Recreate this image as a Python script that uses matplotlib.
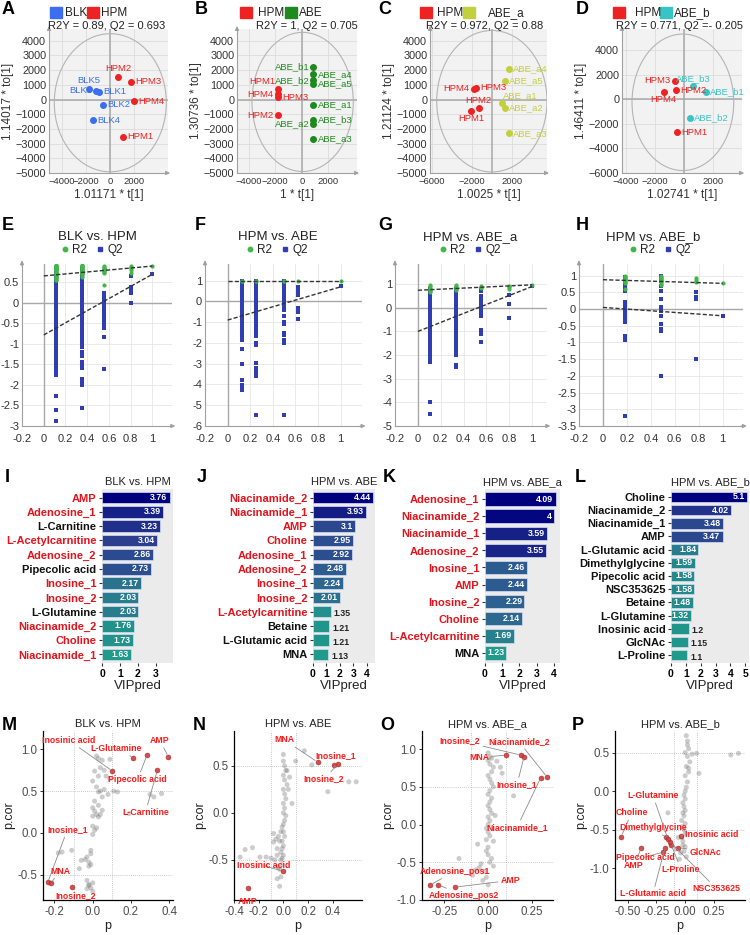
import numpy as np
import matplotlib
matplotlib.use("Agg")
import matplotlib.pyplot as plt
from matplotlib.patches import Ellipse, Rectangle
from matplotlib.lines import Line2D
from matplotlib.colors import LinearSegmentedColormap, Normalize

plt.rcParams['font.family'] = ['Liberation Sans', 'DejaVu Sans']

W, H = 750, 935
fig = plt.figure(figsize=(7.5, 9.35), dpi=100)


def box(l, t, r, b):
    return fig.add_axes([l / W, 1 - b / H, (r - l) / W, (b - t) / H])


def ftext(x, y, s, **kw):
    fig.text(x / W, 1 - y / H, s, **kw)


# ---------------- A-D : OPLS-DA score plots ----------------
a_names = ["BLK5", "BLK3", "BLK1", "BLK2", "BLK4", "HPM2", "HPM3", "HPM4", "HPM1"]
a_t = [-1780, -1150, -960, -630, -1420, 680, 1700, 1970, 1040]
a_to = [750, 610, 520, -340, -1410, 1545, 1200, -100, -2520]
a_grp = [0, 0, 0, 0, 0, 1, 1, 1, 1]
a_side = ["top", "left", "right", "right", "right", "top", "right", "right", "right"]

b_names = ["HPM1", "HPM4", "HPM3", "HPM2", "ABE_b1", "ABE_a4", "ABE_b2", "ABE_a5",
           "ABE_a1", "ABE_b3", "ABE_a2", "ABE_a3"]
b_t = [-1800, -1800, -1800, -1800, 875, 875, 875, 875, 875, 875, 875, 875]
b_to = [750, 350, 150, -1070, 2240, 1710, 1300, 1070, -370, -1370, -1670, -2670]
b_grp = [0, 0, 0, 0, 1, 1, 1, 1, 1, 1, 1, 1]
b_side = ["topleft", "left", "right", "left", "left", "right", "left", "right",
          "right", "right", "left", "right"]

c_names = ["HPM4", "HPM3", "HPM2", "HPM1", "ABE_a4", "ABE_a5", "ABE_a1", "ABE_a2", "ABE_a3"]
c_t = [-1830, -1600, -1300, -2070, 1730, 1330, 1000, 1330, 1670]
c_to = [750, 800, -610, -750, 2090, 1250, -230, -570, -2300]
c_grp = [0, 0, 0, 0, 1, 1, 1, 1, 1]
c_side = ["left", "right", "top", "bottom", "right", "right", "topright", "right", "right"]

d_names = ["HPM3", "HPM4", "HPM2", "HPM1", "ABE_b3", "ABE_b1", "ABE_b2"]
d_t = [-620, -1380, -510, -460, 640, 1560, 440]
d_to = [1500, 630, 740, -2670, 1060, 630, -1500]
d_grp = [0, 0, 0, 0, 1, 1, 1]
d_side = ["left", "bottom", "right", "right", "top", "right", "right"]

score_stats = ["R2Y = 0.89, Q2 = 0.693", "R2Y = 1, Q2 = 0.705",
               "R2Y = 0.972, Q2 = 0.88", "R2Y = 0.771, Q2 =- 0.205"]
score_xlab = ["1.01171 * t[1]", "1 * t[1]", "1.0025 * t[1]", "1.02741 * t[1]"]
score_ylab = ["1.14017 * to[1]", "1.30736 * to[1]", "1.21124 * to[1]", "1.46411 * to[1]"]
score_groups = [["BLK", "HPM"], ["HPM", "ABE"], ["HPM", "ABE_a"], ["HPM", "ABE_b"]]

RED = "#ee2222"
score_cols = [["#3b6ef0", RED], [RED, "#1e8a1e"], [RED, "#c3cf3c"], [RED, "#38c4c4"]]

offs = {"right": ((3, 0), "left", "center"), "left": ((-3, 0), "right", "center"),
        "top": ((0, 2.5), "center", "bottom"), "bottom": ((0, -2.5), "center", "top"),
        "topright": ((1, 2), "left", "bottom"), "topleft": ((-2, 1.5), "right", "bottom")}


def arrows(ax, col):
    ax.annotate("", xy=(1.04, 0), xytext=(0.97, 0), xycoords="axes fraction",
                arrowprops=dict(arrowstyle="-|>", color=col, lw=0.7, mutation_scale=6),
                annotation_clip=False)
    ax.annotate("", xy=(0, 1.04), xytext=(0, 0.97), xycoords="axes fraction",
                arrowprops=dict(arrowstyle="-|>", color=col, lw=0.7, mutation_scale=6),
                annotation_clip=False)


def score(pos, names, t, to, grp, side, cols, xlim, ylim, xt, yt, ell, i):
    ax = box(*pos)
    ax.set_facecolor("#f2f2f2")
    ax.set_xlim(xlim)
    ax.set_ylim(ylim)
    ax.set_xticks(xt)
    ax.set_yticks(yt)
    ax.grid(True, color="#dcdcdc", lw=0.6)
    ax.set_axisbelow(True)
    ax.axhline(0, color="#a8a8a8", lw=1.1, zorder=1)
    ax.axvline(0, color="#a8a8a8", lw=1.1, zorder=1)
    ax.add_patch(Ellipse(ell[:2], ell[2], ell[3], fill=False, ec="#b4b4b4", lw=0.8, zorder=2))
    for n, x, y, g, s in zip(names, t, to, grp, side):
        ax.plot(x, y, "o", color=cols[g], ms=4, zorder=3)
        o, ha, va = offs[s]
        ax.annotate(n, (x, y), xytext=o, textcoords="offset points", ha=ha, va=va,
                    fontsize=6.8, color=cols[g], zorder=4)
    for sp in ("top", "right"):
        ax.spines[sp].set_visible(False)
    for sp in ("left", "bottom"):
        ax.spines[sp].set_color("#a0a0a0")
    arrows(ax, "#a0a0a0")
    ax.tick_params(labelsize=7.8, length=0, pad=2, labelcolor="#333333")
    ax.tick_params(axis="x", labelsize=6.8, pad=3)
    ax.set_xlabel(score_xlab[i], fontsize=8.5, color="#333333", labelpad=2)
    ax.set_ylabel(score_ylab[i], fontsize=8.5, color="#333333", labelpad=1)
    return ax


ax = score((49, 29, 168, 173), a_names, a_t, a_to, a_grp, a_side, score_cols[0],
           (-5100, 4800), (-5000, 4800), [-4000, -2000, 0, 2000],
           list(range(-5000, 4001, 1000)), (0, -220, 9320, 9400), 0)
ax = score((237, 29, 357, 173), b_names, b_t, b_to, b_grp, b_side, score_cols[1],
           (-4875, 4150), (-5000, 4800), [-4000, -2000, 0, 2000],
           list(range(-5000, 4001, 1000)), (60, -165, 7620, 9470), 1)
ax = score((430, 29, 547, 173), c_names, c_t, c_to, c_grp, c_side, score_cols[2],
           (-6170, 5500), (-5000, 4800), [-6000, -2000, 2000],
           list(range(-5000, 4001, 1000)), (0, -115, 11000, 9630), 2)
ax = score((622, 29, 742, 173), d_names, d_t, d_to, d_grp, d_side, score_cols[3],
           (-4250, 4020), (-6000, 5720), [-4000, -2000, 0, 2000],
           list(range(-6000, 4001, 2000)), (-55, -245, 7010, 11110), 3)

# legends / stats / letters for row 1
leg_pos = [(50, 87, 65, 101), (240, 285, 258, 299), (420, 463, 437, 488), (613, 660, 635, 674)]
stat_x = [107, 307, 485, 680]
for i, (s1, s2, t1, t2) in enumerate(leg_pos):
    for sx, tx, c, g in ((s1, t1, score_cols[i][0], score_groups[i][0]),
                         (s2, t2, score_cols[i][1], score_groups[i][1])):
        fig.patches.append(Rectangle((sx / W, 1 - 18 / H), 12 / W, 11 / H,
                                     transform=fig.transFigure, color=c))
        ftext(tx, 13, g, fontsize=8.5, va="center", color="#222222")
    ftext(stat_x[i], 26, score_stats[i], fontsize=8, ha="center", va="center", color="#222222")
for s, x in zip("ABCD", [2, 195, 378, 576]):
    ftext(x, 9, s, fontsize=13, fontweight="bold", va="center")

# ---------------- E-H : permutation tests ----------------
e_cols = [0.11, 0.35, 0.55, 0.8, 1.0]
e_r2 = [[0.92, 0.91, 0.9, 0.89, 0.88, 0.87, 0.86, 0.85, 0.84, 0.83, 0.82, 0.8, 0.78, 0.76,
         0.74, 0.72, 0.7, 0.68, 0.66, 0.64, 0.62, 0.6, 0.57, 0.55],
        [0.92, 0.91, 0.9, 0.89, 0.88, 0.86, 0.84, 0.82, 0.8, 0.78, 0.76, 0.74, 0.72, 0.7,
         0.67, 0.64],
        [0.9, 0.88, 0.86, 0.84, 0.82, 0.8, 0.78, 0.75, 0.72, 0.45],
        [0.9, 0.88, 0.85, 0.8, 0.72],
        [0.9]]
e_q2 = [[0.82, 0.76, 0.7, 0.62, 0.55, 0.48, 0.4, 0.32, 0.25, 0.18, 0.1, 0.02, -0.05, -0.12,
         -0.2, -0.28, -0.35, -0.42, -0.5, -0.57, -0.64, -0.72, -0.8, -0.88, -0.95, -1.02,
         -1.1, -1.18, -1.25, -1.32, -1.4, -1.48, -1.55, -1.62, -1.7, -1.76, -2.27, -2.6, -2.87],
        [0.85, 0.78, 0.7, 0.62, 0.55, 0.48, 0.4, 0.32, 0.25, 0.18, 0.1, 0.02, -0.05, -0.12,
         -0.2, -0.28, -0.35, -0.42, -0.5, -0.58, -0.65, -0.72, -0.8, -0.9, -1.0, -1.08, -1.2,
         -1.3, -1.45, -1.52, -1.58, -1.85, -1.92, -2.0, -2.55],
        [0.25, 0.18, 0.1, 0.02, -0.05, -0.12, -0.2, -0.3, -0.38, -0.45, -0.52, -0.6, -0.82, -1.6],
        [0.65, 0.4, 0.3, 0.25, 0.0],
        [0.7]]
e_lines = [(0.66, 0.9), (-0.78, 0.7)]

f_cols = [0.124, 0.25, 0.5, 0.625, 1.0]
f_r2 = [[1.0, 0.99], [1.0, 0.99], [1.0, 0.99], [1.0], [1.0]]
f_q2 = [[1.0, 0.9, 0.8, 0.7, 0.6, 0.5, 0.4, 0.3, 0.2, 0.1, 0.0, -0.1, -0.2, -0.3, -0.4, -0.5,
         -0.6, -0.7, -0.8, -0.9, -1.0, -1.1, -1.2, -1.3, -1.4, -1.5, -1.6, -1.7, -1.85, -2.3,
         -3.0, -3.8, -4.05, -4.15, -4.25],
        [1.0, 0.9, 0.8, 0.7, 0.6, 0.5, 0.4, 0.3, 0.2, 0.1, 0.0, -0.1, -0.2, -0.3, -0.4, -0.5,
         -0.6, -0.7, -0.8, -0.9, -1.0, -1.1, -1.2, -1.3, -1.4, -1.5, -1.65, -2.0, -2.1, -2.95,
         -3.2, -3.35, -3.45, -3.6, -5.45],
        [1.0, 0.9, 0.8, 0.7, 0.6, 0.5, 0.4, 0.3, 0.2, 0.1, 0.0, -0.1, -0.2, -0.4, -0.7, -1.0,
         -1.1, -1.5, -1.6, -1.85, -1.95, -2.0, -5.45],
        [0.7, 0.55, 0.4, 0.3, -0.3, -0.4, -0.5, -0.85],
        [0.72]]
f_lines = [(1.0, 1.0), (-0.9, 0.7)]

g_cols = [0.103, 0.338, 0.553, 0.794, 1.0]
g_r2 = [[0.95, 0.9, 0.85, 0.8, 0.75, 0.7, 0.65], [0.95, 0.9, 0.85, 0.8, 0.75],
        [0.93, 0.88, 0.82], [0.93, 0.88, 0.8], [0.97]]
g_q2 = [[0.8, 0.7, 0.6, 0.5, 0.4, 0.3, 0.2, 0.1, 0.0, -0.1, -0.2, -0.3, -0.4, -0.5, -0.6,
         -0.7, -0.8, -0.9, -1.0, -1.1, -1.2, -1.3, -1.4, -1.5, -1.6, -1.7, -1.8, -1.9, -2.0,
         -2.1, -2.2, -2.3, -4.0, -4.5],
        [0.8, 0.7, 0.6, 0.5, 0.4, 0.3, 0.2, 0.1, 0.0, -0.1, -0.2, -0.3, -0.4, -0.5, -0.6,
         -0.7, -0.8, -0.9, -1.0, -1.1, -1.2, -1.3, -1.4, -1.5, -1.6, -1.7, -1.8, -1.9, -2.0,
         -2.4, -2.5],
        [0.8, 0.75, 0.7, 0.5, 0.4, 0.3, 0.2, 0.1, 0.0, -0.1, -0.2, -0.35, -0.95, -1.1, -1.45],
        [0.55, 0.15, -0.45],
        [0.9]]
g_lines = [(0.74, 0.97), (-1.0, 0.9)]

h_cols = [0.185, 0.483, 0.779, 1.0]
h_r2 = [[0.98, 0.95, 0.92, 0.9, 0.87, 0.84, 0.8, 0.77, 0.6],
        [1.0, 0.97, 0.94, 0.9, 0.87, 0.83, 0.8, 0.76, 0.72],
        [0.92, 0.88, 0.82], [0.77]]
h_q2 = [[0.95, 0.85, 0.75, 0.65, 0.55, 0.2, 0.15, 0.05, -0.02, -0.1, -0.15, -0.2, -0.25,
         -0.3, -0.35, -0.4, -0.82, -0.87, -0.92, -3.2],
        [0.98, 0.9, 0.85, 0.7, 0.55, 0.3, 0.05, -0.05, -0.2, -0.45, -0.6, -0.65, -2.0],
        [0.5, 0.35, 0.3, -1.5],
        [-0.2]]
h_lines = [(0.88, 0.77), (0.05, -0.2)]

perm_titles = ["BLK vs. HPM", "HPM vs. ABE", "HPM vs. ABE_a", "HPM vs. ABE_b"]
GREEN, BLUE = "#43b649", "#2f3fb3"


def perm(pos, cols, r2, q2, lines, xmax, ylim, yt, ytl):
    ax = box(*pos)
    ax.set_xlim(-0.2, xmax)
    ax.set_ylim(ylim)
    ax.set_xticks([-0.2, 0, 0.2, 0.4, 0.6, 0.8, 1])
    ax.set_xticklabels(["-0.2", "0", "0.2", "0.4", "0.6", "0.8", "1"])
    ax.set_yticks(yt)
    ax.set_yticklabels(ytl)
    ax.grid(True, color="#e6e6e6", lw=0.6)
    ax.set_axisbelow(True)
    ax.axhline(0, color="#a8a8a8", lw=1.0, zorder=1)
    ax.axvline(0, color="#a8a8a8", lw=1.0, zorder=1)
    for c, vals in zip(cols, q2):
        ax.plot([c] * len(vals), vals, "s", color=BLUE, ms=2.6, mew=0, zorder=3)
    for c, vals in zip(cols, r2):
        ax.plot([c] * len(vals), vals, "o", color=GREEN, ms=3, mew=0, zorder=4)
    for y0, y1 in lines:
        ax.plot([0, 1], [y0, y1], color="#333333", lw=1.0, ls=(0, (3, 1.5)), zorder=5)
    for sp in ("top", "right"):
        ax.spines[sp].set_visible(False)
    for sp in ("left", "bottom"):
        ax.spines[sp].set_color("#a0a0a0")
    arrows(ax, "#a0a0a0")
    ax.tick_params(labelsize=8, length=0, pad=2, labelcolor="#333333")
    ax.tick_params(axis="x", pad=6)
    return ax


perm((22, 264, 172, 426), e_cols, e_r2, e_q2, e_lines, 1.18, (-3, 0.95),
     [0.5, 0, -0.5, -1, -1.5, -2, -2.5, -3], ["0.5", "0", "-0.5", "-1", "-1.5", "-2", "-2.5", "-3"])
perm((205, 264, 362, 426), f_cols, f_r2, f_q2, f_lines, 1.19, (-6, 1.8),
     [1, 0, -1, -2, -3, -4, -5, -6], ["1", "0", "-1", "-2", "-3", "-4", "-5", "-6"])
perm((395, 264, 547, 426), g_cols, g_r2, g_q2, g_lines, 1.13, (-5, 1.85),
     [1, 0, -1, -2, -3, -4, -5], ["1", "0", "-1", "-2", "-3", "-4", "-5"])
perm((579, 264, 743, 426), h_cols, h_r2, h_q2, h_lines, 1.17, (-3.5, 1.35),
     [1, 0.5, 0, -0.5, -1, -1.5, -2, -2.5, -3, -3.5],
     ["1", "0.5", "0", "-0.5", "-1", "-1.5", "-2", "-2.5", "-3", "-3.5"])

perm_cx = [(97, 92), (278, 277), (470, 470), (653, 660)]
perm_handles = [Line2D([], [], marker="o", ls="", color=GREEN, ms=3.2, label="R2"),
                Line2D([], [], marker="s", ls="", color=BLUE, ms=3, label="Q2")]
for (tx, lx), t in zip(perm_cx, perm_titles):
    ftext(tx, 237, t, fontsize=9.5, ha="center", va="center", color="#222222")
    fig.legend(handles=perm_handles, loc="center", bbox_to_anchor=(lx / W, 1 - 250 / H),
               ncol=2, frameon=False, fontsize=8.5, handlelength=0.6, handletextpad=0.3,
               columnspacing=0.8, borderpad=0, labelcolor="#222222")
for s, x in zip("EFGH", [2, 195, 378, 576]):
    ftext(x, 226, s, fontsize=13, fontweight="bold", va="center")

# ---------------- I-L : VIP bar charts ----------------
i_names = ["AMP", "Adenosine_1", "L-Carnitine", "L-Acetylcarnitine", "Adenosine_2",
           "Pipecolic acid", "Inosine_1", "Inosine_2", "L-Glutamine", "Niacinamide_2",
           "Choline", "Niacinamide_1"]
i_vip = [3.76, 3.39, 3.23, 3.04, 2.86, 2.73, 2.17, 2.03, 2.03, 1.76, 1.73, 1.63]
i_red = [1, 1, 0, 1, 1, 0, 1, 1, 0, 1, 1, 1]

j_names = ["Niacinamide_2", "Niacinamide_1", "AMP", "Choline", "Adenosine_1", "Adenosine_2",
           "Inosine_1", "Inosine_2", "L-Acetylcarnitine", "Betaine", "L-Glutamic acid", "MNA"]
j_vip = [4.44, 3.93, 3.1, 2.95, 2.92, 2.48, 2.24, 2.01, 1.35, 1.21, 1.21, 1.13]
j_red = [1, 1, 1, 1, 1, 1, 1, 1, 1, 0, 0, 0]

k_names = ["Adenosine_1", "Niacinamide_2", "Niacinamide_1", "Adenosine_2", "Inosine_1",
           "AMP", "Inosine_2", "Choline", "L-Acetylcarnitine", "MNA"]
k_vip = [4.09, 4, 3.59, 3.55, 2.46, 2.44, 2.29, 2.14, 1.69, 1.23]
k_red = [1, 1, 1, 1, 1, 1, 1, 1, 1, 0]

l_names = ["Choline", "Niacinamide_2", "Niacinamide_1", "AMP", "L-Glutamic acid",
           "Dimethylglycine", "Pipecolic acid", "NSC353625", "Betaine", "L-Glutamine",
           "Inosinic acid", "GlcNAc", "L-Proline"]
l_vip = [5.1, 4.02, 3.48, 3.47, 1.84, 1.59, 1.58, 1.58, 1.48, 1.32, 1.2, 1.15, 1.1]
l_red = [0] * 13

vip_cmap = LinearSegmentedColormap.from_list("vip", ["#1f9a8b", "#2d6690", "#2b3f8e", "#00007f"])


def vip(pos, names, vals, red, xmax, xt, title):
    ax = box(*pos)
    n = len(vals)
    y = np.arange(n)
    norm = Normalize(min(vals), max(vals))
    ax.barh(y, vals, height=0.8, color=vip_cmap(norm(np.array(vals))), ec="#d8def2", lw=0.5)
    ax.set_ylim(n - 0.4, -0.6)
    ax.set_xlim(0, xmax)
    ax.set_facecolor("#ebebeb")
    wpx = pos[2] - pos[0]
    for yi, v in zip(y, vals):
        if v / xmax * wpx >= 19:
            ax.annotate(f"{v:g}", (v, yi), xytext=(-1.5, 0), textcoords="offset points",
                        ha="right", va="center", fontsize=6.3, color="white", fontweight="bold")
        else:
            ax.annotate(f"{v:g}", (v, yi), xytext=(2, -1.5), textcoords="offset points",
                        ha="left", va="center", fontsize=6.3, color="#222222", fontweight="bold")
    ax.set_yticks(y)
    ax.set_yticklabels(names, fontsize=8, fontweight="bold")
    for lb, r in zip(ax.get_yticklabels(), red):
        lb.set_color("#e3141c" if r else "#111111")
    ax.set_xticks(xt)
    ax.set_xticklabels([str(v) for v in xt], fontsize=7.5, fontweight="bold")
    ax.tick_params(length=2.5, width=0.8, color="#333333", pad=1.5)
    for sp in ax.spines.values():
        sp.set_visible(False)
    ax.set_xlabel("VIPpred", fontsize=9.5, labelpad=1, color="#222222")
    ax.set_title(title, fontsize=8, pad=3, color="#222222")
    return ax


vip((102, 489, 173, 663), i_names, i_vip, i_red, 3.95, [0, 1, 2, 3], "BLK vs. HPM")
vip((313, 489, 375, 663), j_names, j_vip, j_red, 4.6, [0, 1, 2, 3, 4], "HPM vs. ABE")
vip((485, 489, 560, 663), k_names, k_vip, k_red, 4.35, [0, 1, 2, 3, 4], "HPM vs. ABE_a")
vip((671, 489, 749, 663), l_names, l_vip, l_red, 5.25, [0, 1, 2, 3, 4, 5], "HPM vs. ABE_b")
for s, x in zip("IJKL", [5, 197, 383, 575]):
    ftext(x, 478, s, fontsize=13, fontweight="bold", va="center")

# ---------------- M-P : S-plots ----------------
m_gp = [0.02, 0.03, 0.05, 0.09, 0.04, 0.06, 0.01, 0.03, 0.07, 0.09, 0.0, 0.02, 0.04, 0.03,
        0.06, 0.08, 0.11, 0.13, 0.05, 0.01, 0.03, 0.0, 0.01, 0.02, 0.0, 0.04, 0.03, 0.05,
        0.19, 0.30, 0.32, 0.36, 0.0, 0.02, 0.0, 0.01, -0.18, -0.16, -0.11, -0.01, -0.01,
        -0.03, -0.04, -0.02, -0.01, -0.02, -0.06, -0.07, -0.03, -0.02, 0.0, -0.01, -0.03, 0.0,
        -0.02]
m_gc = [0.92, 0.89, 0.87, 0.88, 0.78, 0.75, 0.74, 0.68, 0.68, 0.65, 0.62, 0.55, 0.5, 0.49,
        0.52, 0.46, 0.5, 0.49, 0.43, 0.38, 0.33, 0.30, 0.26, 0.22, 0.20, 0.22, 0.19, 0.27,
        0.23, 0.46, 0.43, 0.47, 0.08, 0.06, -0.02, 0.03, -0.24, -0.23, -0.21, -0.21, -0.25,
        -0.29, -0.32, -0.35, -0.38, -0.40, -0.33, -0.43, -0.57, -0.62, -0.60, -0.66, -0.67,
        -0.70, -0.63]
m_names = ["AMP", "L-Glutamine", "Pipecolic acid", "Inosinic acid", "L-Carnitine",
           "Inosine_1", "Inosine_2", "MNA"]
m_rp = [0.396, 0.213, 0.284, 0.103, 0.338, -0.235, -0.110, -0.219]
m_rc = [0.91, 0.90, 0.93, 0.74, 0.75, -0.595, -0.647, -0.60]
m_lp = [0.352, 0.124, 0.235, -0.124, 0.276, -0.133, -0.089, -0.169]
m_lc = [1.107, 1.01, 0.643, 1.107, 0.246, 0.036, -0.746, -0.46]

n_gp = [0.0, 0.01, 0.02, 0.0, 0.01, 0.03, 0.0, 0.01, 0.02, 0.0, 0.01, 0.0, 0.02, 0.01,
        0.0, -0.01, 0.0, 0.01, -0.01, 0.0, -0.01, -0.02, 0.0, -0.01, -0.02, -0.03, -0.01,
        -0.02, -0.04, -0.05, -0.03, -0.06, -0.08, -0.1, -0.05, -0.04, -0.07, -0.02, 0.05,
        0.07, 0.04, 0.1, 0.17, 0.23, 0.36, 0.53, 0.59, -0.35, -0.31, -0.25, -0.19, -0.14,
        -0.08, -0.03, -0.05, 0.0, 0.03]
n_gc = [0.55, 0.5, 0.45, 0.4, 0.35, 0.3, 0.25, 0.2, 0.15, 0.1, 0.05, 0.0, -0.03, -0.08,
        -0.12, -0.15, -0.2, -0.25, -0.3, -0.35, -0.38, -0.42, -0.45, -0.48, -0.5, -0.3,
        -0.55, -0.2, -0.25, -0.45, -0.6, -0.28, -0.22, -0.48, -0.38, -0.58, -0.5, -0.68,
        0.38, 0.1, 0.25, 0.55, 0.66, 0.51, 0.225, 0.33, 0.33, -0.47, -0.39, -0.37, -0.47,
        -0.47, -0.31, -0.78, -0.7, 0.62, 0.45]
n_names = ["MNA", "Inosine_1", "Inosine_2", "Inosinic acid", "AMP"]
n_rp = [0.277, 0.41, 0.443, -0.005, -0.287]
n_rc = [0.54, 0.51, 0.52, -0.62, -0.80]
n_lp = [0.008, 0.424, 0.33, -0.16, -0.287]
n_lc = [0.775, 0.606, 0.36, -0.56, -0.94]

o_gp = [0.0, 0.01, 0.02, 0.0, 0.01, 0.03, 0.02, 0.0, 0.01, 0.02, 0.03, 0.01, 0.0, 0.02,
        0.01, 0.0, 0.01, 0.02, 0.0, 0.01, 0.0, -0.01, 0.0, 0.01, -0.01, 0.0, -0.01, 0.0,
        0.02, 0.01, 0.03, 0.07, 0.05, 0.145, -0.06, -0.166, -0.05, -0.03, -0.088, -0.02,
        -0.01, 0.0, -0.04, -0.07, 0.04, 0.08, 0.03]
o_gc = [0.95, 0.9, 0.88, 0.85, 0.8, 0.76, 0.7, 0.65, 0.6, 0.55, 0.5, 0.45, 0.4, 0.35, 0.3,
        0.25, 0.2, 0.15, 0.1, 0.05, 0.0, -0.05, -0.1, -0.15, -0.2, -0.3, -0.35, -0.4, -0.45,
        -0.5, -0.55, 0.76, 0.84, 0.38, -0.26, -0.45, -0.57, -0.74, -0.67, -0.62, -0.7,
        -0.8, -0.52, -0.6, 0.12, 0.68, -0.22]
o_names = ["MNA", "Inosine_2", "Inosine_1", "Niacinamide_1", "Niacinamide_2",
           "Adenosine_pos1", "Adenosine_pos2", "AMP"]
o_rp = [0.104, 0.188, 0.205, 0.30, 0.336, -0.33, -0.284, -0.19]
o_rc = [0.92, 0.92, 0.90, 0.62, 0.63, -0.80, -0.80, -0.83]
o_lp = [-0.05, -0.16, 0.165, 0.165, 0.175, -0.19, -0.135, 0.127]
o_lc = [0.89, 1.11, 0.53, -0.035, 1.10, -0.62, -0.94, -0.74]

p_gp = [0.01, 0.02, 0.03, 0.0, 0.02, 0.04, 0.01, 0.03, 0.0, 0.02, 0.01, 0.0, -0.01,
        0.0, -0.02, -0.01, 0.0, -0.02, -0.01, -0.03, 0.0, -0.02, -0.01, 0.0, -0.03, -0.02,
        0.0, -0.01, 0.02, 0.06, 0.1, 0.12, 0.397, 0.463, -0.15, -0.06, -0.08, -0.04, -0.05,
        0.01, -0.02, 0.03]
p_gc = [0.72, 0.65, 0.55, 0.5, 0.45, 0.38, 0.32, 0.25, 0.2, 0.12, 0.05, 0.0, -0.05, -0.1,
        -0.15, -0.2, -0.25, -0.28, -0.32, -0.38, -0.42, -0.46, -0.5, -0.55, -0.6, -0.65,
        -0.72, -0.78, 0.6, 0.48, 0.49, 0.23, 0.47, 0.49, -0.28, -0.6, -0.75, -0.8, -0.88,
        -0.85, -0.7, 0.3]
p_names = ["Choline", "AMP", "Dimethylglycine", "L-Glutamine", "Pipecolic acid",
           "L-Glutamic acid", "L-Proline", "NSC353625", "GlcNAc", "Inosinic acid"]
p_rp = [-0.557, -0.38, -0.166, -0.15, -0.19, -0.175, -0.12, -0.13, -0.06, -0.04]
p_rc = [-0.59, -0.73, -0.60, -0.62, -0.79, -0.73, -0.70, -0.66, -0.73, -0.58]
p_lp = [-0.466, -0.446, -0.28, -0.28, -0.35, -0.28, -0.037, 0.274, 0.177, 0.234]
p_lc = [-0.28, -0.965, -0.47, -0.058, -0.854, -1.33, -1.01, -1.265, -0.79, -0.558]

s_titles = ["BLK vs. HPM", "HPM vs. ABE", "HPM vs. ABE_a", "HPM vs. ABE_b"]


def splot(pos, gp, gc, rp, rc, names, lp, lc, xlim, ylim, xt, xtl, yt, ytl, title):
    ax = box(*pos)
    ax.set_xlim(xlim)
    ax.set_ylim(ylim)
    for v in (-0.1, 0.1):
        ax.axvline(v, color="#b8b8b8", lw=0.6, ls=(0, (1, 1.5)), zorder=0)
    for v in (-0.5, 0.5):
        ax.axhline(v, color="#b8b8b8", lw=0.6, ls=(0, (1, 1.5)), zorder=0)
    ax.scatter(gp, gc, s=13, color="#6e6e6e", alpha=0.35, edgecolors="none", zorder=2)
    ax.scatter(rp, rc, s=13, color="#d23a3a", alpha=0.9, edgecolors="#8a2020",
               linewidths=0.3, zorder=3)
    for n, x, y, tx, ty in zip(names, rp, rc, lp, lc):
        a = ax.transData.transform((x, y))
        b = ax.transData.transform((tx, ty))
        far = np.hypot(*(a - b)) > 14
        ax.annotate(n, (x, y), xytext=(tx, ty), textcoords="data", ha="center", va="center",
                    fontsize=6.3, color="#ff1a1a", fontweight="bold", zorder=4,
                    arrowprops=dict(arrowstyle="-", color="#8c8c8c", lw=0.6,
                                    shrinkA=0, shrinkB=2) if far else None)
    ax.set_xticks(xt)
    ax.set_xticklabels(xtl)
    ax.set_yticks(yt)
    ax.set_yticklabels(ytl)
    for sp in ("top", "right"):
        ax.spines[sp].set_visible(False)
    for sp in ("left", "bottom"):
        ax.spines[sp].set_linewidth(0.9)
    ax.tick_params(labelsize=8.3, labelcolor="#4d4d4d", length=2.5, width=0.7,
                   color="#333333", pad=1.5)
    ax.set_xlabel("p", fontsize=9, labelpad=2, color="#222222")
    ax.set_ylabel("p.cor", fontsize=9, labelpad=2, color="#222222")
    ax.set_title(title, fontsize=8, pad=3, color="#222222")
    return ax


splot((43, 731, 173, 900), m_gp, m_gc, m_rp, m_rc, m_names, m_lp, m_lc,
      (-0.26, 0.42), (-0.805, 1.22), [-0.2, 0.0, 0.2, 0.4], ["-0.2", "0.0", "0.2", "0.4"],
      [-0.5, 0.0, 0.5, 1.0], ["-0.5", "0.0", "0.5", "1.0"], s_titles[0])
splot((234, 731, 362, 900), n_gp, n_gc, n_rp, n_rc, n_names, n_lp, n_lc,
      (-0.397, 0.637), (-0.926, 0.87), [-0.4, -0.2, 0.0, 0.2, 0.4],
      ["-0.4", "-0.2", "0.0", "0.2", "0.4"], [-0.5, 0.0, 0.5], ["-0.5", "0.0", "0.5"], s_titles[1])
splot((422, 731, 553, 900), o_gp, o_gc, o_rp, o_rc, o_names, o_lp, o_lc,
      (-0.377, 0.37), (-1.0, 1.24), [-0.25, 0.0, 0.25], ["-0.25", "0.00", "0.25"],
      [-1.0, -0.5, 0.0, 0.5, 1.0], ["-1.0", "-0.5", "0.0", "0.5", "1.0"], s_titles[2])
splot((615, 731, 745, 900), p_gp, p_gc, p_rp, p_rc, p_names, p_lp, p_lc,
      (-0.61, 0.52), (-1.41, 0.78), [-0.5, -0.25, 0.0, 0.25], ["-0.50", "-0.25", "0.00", "0.25"],
      [-1.0, -0.5, 0.0, 0.5], ["-1.0", "-0.5", "0.0", "0.5"], s_titles[3])
for s, x in zip("MNOP", [2, 193, 380, 572]):
    ftext(x, 726, s, fontsize=13, fontweight="bold", va="center")

fig.savefig("out.png", dpi=100)
